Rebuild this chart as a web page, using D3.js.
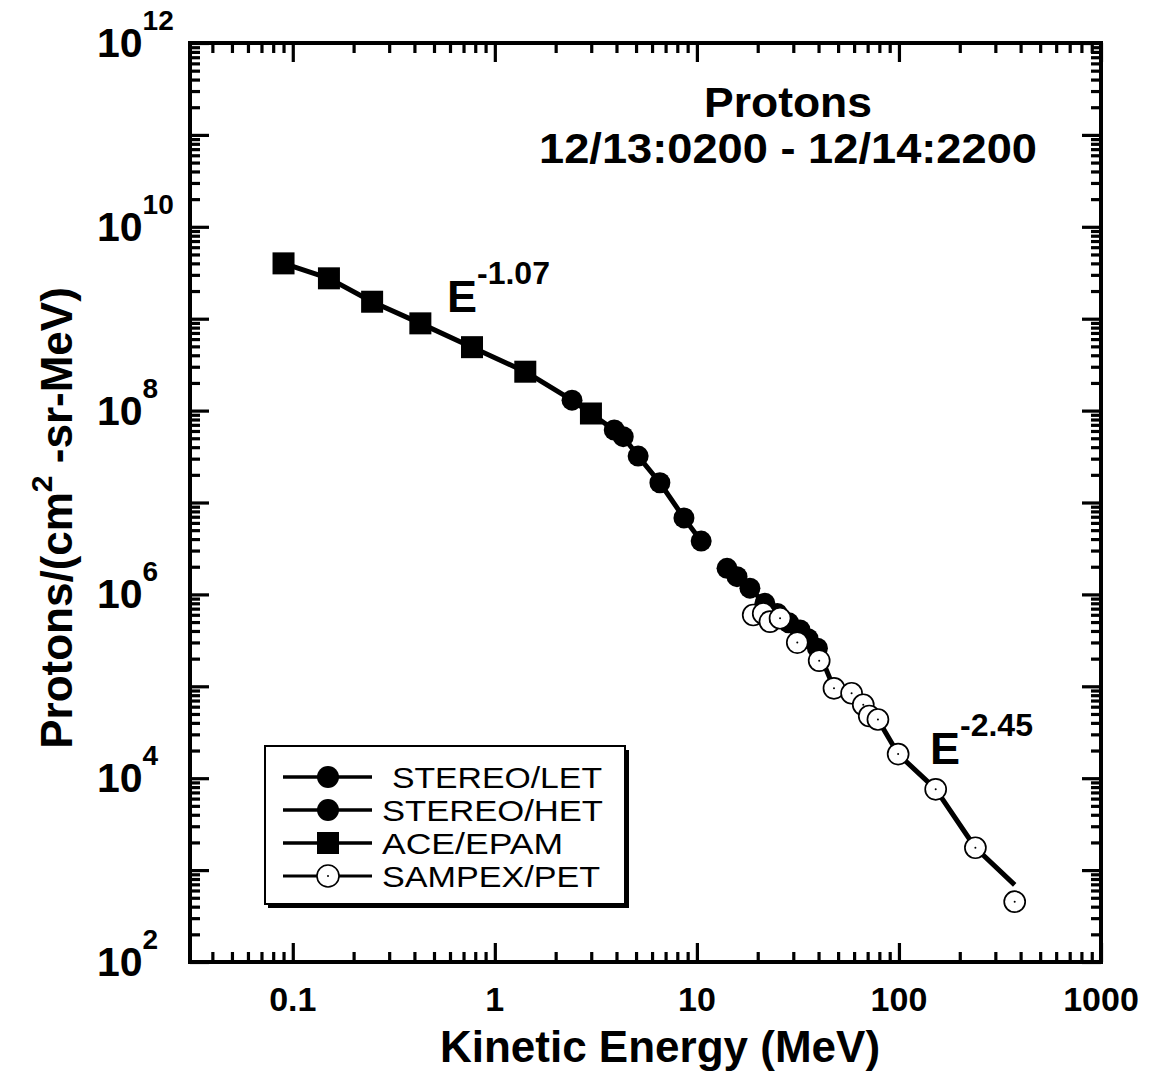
<!DOCTYPE html>
<html>
<head>
<meta charset="utf-8">
<script src="https://cdn.jsdelivr.net/npm/d3@7"></script>
<style>
  html, body { margin: 0; padding: 0; background: #fff; }
  svg { display: block; }
  text { font-family: "Liberation Sans", Arial, Helvetica, sans-serif; fill: #000; }
</style>
</head>
<body>
<svg id="chart" width="1150" height="1082"></svg>
<script>
// ---------------- data ----------------
const aceEnergy = [0.090, 0.151, 0.247, 0.428, 0.771, 1.415, 2.99];
const aceFlux   = [4.0e9, 2.75e9, 1.53e9, 8.9e8, 4.9e8, 2.65e8, 9.3e7];

const letEnergy = [2.41, 3.90, 4.32, 5.12, 6.56, 8.63, 10.5];
const letFlux   = [1.30e8, 6.15e7, 5.2e7, 3.2e7, 1.64e7, 6.8e6, 3.8e6];

const hetEnergy = [14.1, 15.8, 18.3, 21.7, 25.0, 28.5, 32.4, 35.5, 39.5];
const hetFlux   = [1.92e6, 1.56e6, 1.17e6, 8.0e5, 6.2e5, 4.9e5, 4.1e5, 3.3e5, 2.6e5];

const petEnergy = [19.0, 21.3, 23.0, 25.8, 31.4, 40.3, 47.7, 58.3, 66.6, 71.3, 78.7, 99.1, 152, 239, 374];
const petFlux   = [5.97e5, 6.2e5, 5.05e5, 5.5e5, 2.99e5, 1.9e5, 9.5e4, 8.4e4, 6.3e4, 4.75e4, 4.35e4, 1.83e4, 7.57e3, 1.75e3, 453];

// high-energy trend line (E^-2.45 part)
const highLineEnergy = [14.1, 15.8, 18.3, 21.7, 25.0, 28.5, 32.4, 35.5, 39.5, 47.7, 78.7, 99.1, 152, 239, 374];
const highLineFlux   = [1.92e6, 1.56e6, 1.17e6, 8.0e5, 6.2e5, 4.9e5, 4.1e5, 3.3e5, 2.6e5, 9.5e4, 4.35e4, 1.83e4, 7.6e3, 1.75e3, 690];

const xMajorTicks = [0.1, 1, 10, 100, 1000];
const xTickLabels = ["0.1", "1", "10", "100", "1000"];
const yMajorTicks = [1e2, 1e3, 1e4, 1e5, 1e6, 1e7, 1e8, 1e9, 1e10, 1e11, 1e12];
const yLabelValues = [1e2, 1e4, 1e6, 1e8, 1e10, 1e12];
const yLabelExponents = ["2", "4", "6", "8", "10", "12"];

const legendLabels = ["\u00a0STEREO/LET", "STEREO/HET", "ACE/EPAM", "SAMPEX/PET"];
const legendMarkers = ["circle", "circle", "square", "open"];

const titleLines = ["Protons", "12/13:0200 - 12/14:2200"];
const xTitle = "Kinetic Energy (MeV)";

// ---------------- layout ----------------
const L = 190, R = 1101, T = 43, B = 962;
const svg = d3.select("#chart");
const x = d3.scaleLog().domain([0.031, 1000]).range([L, R]);
const y = d3.scaleLog().domain([1e2, 1e12]).range([B, T]);

function minorTicks(majors, lo, hi) {
  const out = [];
  majors.forEach(m => {
    for (let k = 2; k <= 9; k++) {
      const v = m * k / 10;
      if (v > lo && v < hi) out.push(v);
    }
  });
  return out;
}
const xMinor = minorTicks([0.1, 1, 10, 100, 1000], 0.031, 1000);
const yMinor = minorTicks(yMajorTicks, 1e2, 1e12);

// ---------------- axes (inward ticks on all sides) ----------------
function styleAxis(g) {
  g.select(".domain").remove();
  g.selectAll(".tick line").attr("stroke", "#000").attr("stroke-width", 3.2);
  g.selectAll(".tick text").remove();
}
const majLen = 19, minLen = 10;
svg.append("g").attr("transform", `translate(0,${B})`)
  .call(d3.axisBottom(x).tickValues(xMajorTicks).tickSize(-majLen).tickFormat("")).call(styleAxis);
svg.append("g").attr("transform", `translate(0,${B})`)
  .call(d3.axisBottom(x).tickValues(xMinor).tickSize(-minLen).tickFormat("")).call(styleAxis);
svg.append("g").attr("transform", `translate(0,${T})`)
  .call(d3.axisTop(x).tickValues(xMajorTicks).tickSize(-majLen).tickFormat("")).call(styleAxis);
svg.append("g").attr("transform", `translate(0,${T})`)
  .call(d3.axisTop(x).tickValues(xMinor).tickSize(-minLen).tickFormat("")).call(styleAxis);
svg.append("g").attr("transform", `translate(${L},0)`)
  .call(d3.axisLeft(y).tickValues(yMajorTicks).tickSize(-majLen).tickFormat("")).call(styleAxis);
svg.append("g").attr("transform", `translate(${L},0)`)
  .call(d3.axisLeft(y).tickValues(yMinor).tickSize(-minLen).tickFormat("")).call(styleAxis);
svg.append("g").attr("transform", `translate(${R},0)`)
  .call(d3.axisRight(y).tickValues(yMajorTicks).tickSize(-majLen).tickFormat("")).call(styleAxis);
svg.append("g").attr("transform", `translate(${R},0)`)
  .call(d3.axisRight(y).tickValues(yMinor).tickSize(-minLen).tickFormat("")).call(styleAxis);

// frame
svg.append("rect").attr("x", L).attr("y", T).attr("width", R - L).attr("height", B - T)
  .attr("fill", "none").attr("stroke", "#000").attr("stroke-width", 4);

// x tick labels
svg.append("g").selectAll("text").data(xMajorTicks).join("text")
  .attr("x", d => x(d)).attr("y", 1011)
  .attr("text-anchor", "middle").attr("font-weight", "bold").attr("font-size", 34)
  .text((d, i) => xTickLabels[i]);

// y tick labels 10^n
const yl = svg.append("g").selectAll("text").data(yLabelValues).join("text")
  .attr("x", 97).attr("y", d => y(d) + 14)
  .attr("font-weight", "bold").attr("font-size", 41);
yl.append("tspan").text("10");
yl.append("tspan").attr("dy", -27).attr("font-size", 28).text((d, i) => yLabelExponents[i]);

// axis titles
svg.append("text").attr("x", 660).attr("y", 1062).attr("text-anchor", "middle")
  .attr("font-weight", "bold").attr("font-size", 44).text(xTitle);

const yt = svg.append("text").attr("transform", "translate(72,518) rotate(-90)")
  .attr("text-anchor", "middle").attr("font-weight", "bold").attr("font-size", 44);
yt.append("tspan").text("Protons/(cm");
yt.append("tspan").attr("dy", -20).attr("font-size", 30).text("2");
yt.append("tspan").attr("dy", 20).text(" -sr-MeV)");

// title
svg.append("g").selectAll("text").data(titleLines).join("text")
  .attr("x", 788).attr("y", (d, i) => 117 + i * 46)
  .attr("text-anchor", "middle").attr("font-weight", "bold").attr("font-size", 43)
  .attr("textLength", (d, i) => i === 0 ? 168 : 498)
  .attr("lengthAdjust", "spacingAndGlyphs")
  .text(d => d);

// ---------------- lines ----------------
const line = d3.line().x(d => x(d[0])).y(d => y(d[1]));
const lowLine = aceEnergy.map((e, i) => [e, aceFlux[i]])
  .concat(letEnergy.map((e, i) => [e, letFlux[i]]))
  .sort((a, b) => a[0] - b[0]);
const highLine = highLineEnergy.map((e, i) => [e, highLineFlux[i]]);
svg.append("path").attr("d", line(lowLine)).attr("fill", "none")
  .attr("stroke", "#000").attr("stroke-width", 5).attr("stroke-linejoin", "round");
svg.append("path").attr("d", line(highLine)).attr("fill", "none")
  .attr("stroke", "#000").attr("stroke-width", 5).attr("stroke-linejoin", "round");

// ---------------- markers ----------------
const SQ = 22, RC = 10.5, RO = 10.5;
svg.append("g").selectAll("circle").data(letEnergy).join("circle")
  .attr("cx", d => x(d)).attr("cy", (d, i) => y(letFlux[i])).attr("r", RC).attr("fill", "#000");
svg.append("g").selectAll("circle").data(hetEnergy).join("circle")
  .attr("cx", d => x(d)).attr("cy", (d, i) => y(hetFlux[i])).attr("r", RC).attr("fill", "#000");
svg.append("g").selectAll("rect").data(aceEnergy).join("rect")
  .attr("x", d => x(d) - SQ / 2).attr("y", (d, i) => y(aceFlux[i]) - SQ / 2)
  .attr("width", SQ).attr("height", SQ).attr("fill", "#000");
const pet = svg.append("g").selectAll("g").data(petEnergy).join("g")
  .attr("transform", (d, i) => `translate(${x(d)},${y(petFlux[i])})`);
pet.append("circle").attr("r", RO).attr("fill", "#fff").attr("stroke", "#000").attr("stroke-width", 1.7);
pet.append("circle").attr("r", 1).attr("fill", "#000");

// ---------------- annotations ----------------
function powerLabel(xp, yp, exp) {
  const t = svg.append("text").attr("x", xp).attr("y", yp).attr("font-weight", "bold").attr("font-size", 45);
  t.append("tspan").text("E");
  t.append("tspan").attr("dy", -28).attr("font-size", 32).text(exp);
}
powerLabel(447, 312, "-1.07");
powerLabel(930, 764, "-2.45");

// ---------------- legend ----------------
const lg = svg.append("g");
lg.append("rect").attr("x", 268).attr("y", 750).attr("width", 361).attr("height", 158).attr("fill", "#000");
lg.append("rect").attr("x", 265).attr("y", 746).attr("width", 360).attr("height", 158)
  .attr("fill", "#fff").attr("stroke", "#000").attr("stroke-width", 2);
const rows = lg.selectAll("g.row").data(legendLabels).join("g").attr("class", "row")
  .attr("transform", (d, i) => `translate(0,${777 + i * 33})`);
rows.append("line").attr("x1", 283).attr("x2", 372).attr("y1", 0).attr("y2", 0)
  .attr("stroke", "#000").attr("stroke-width", (d, i) => legendMarkers[i] === "open" ? 2.8 : 3.6);
rows.each(function(d, i) {
  const g = d3.select(this);
  const m = legendMarkers[i];
  if (m === "square") {
    g.append("rect").attr("x", 328 - 11).attr("y", -11).attr("width", 22).attr("height", 22).attr("fill", "#000");
  } else if (m === "open") {
    g.append("circle").attr("cx", 328).attr("r", 11).attr("fill", "#fff").attr("stroke", "#000").attr("stroke-width", 1.6);
    g.append("circle").attr("cx", 328).attr("r", 1).attr("fill", "#000");
  } else {
    g.append("circle").attr("cx", 328).attr("r", 11).attr("fill", "#000");
  }
});
const legendWidths = [210, 221, 181, 218];
rows.append("text").attr("x", (d, i) => i === 0 ? 392 : 382).attr("y", 11).attr("font-size", 29.5)
  .attr("textLength", (d, i) => legendWidths[i]).attr("lengthAdjust", "spacingAndGlyphs")
  .text(d => d.trim());
</script>
</body>
</html>
